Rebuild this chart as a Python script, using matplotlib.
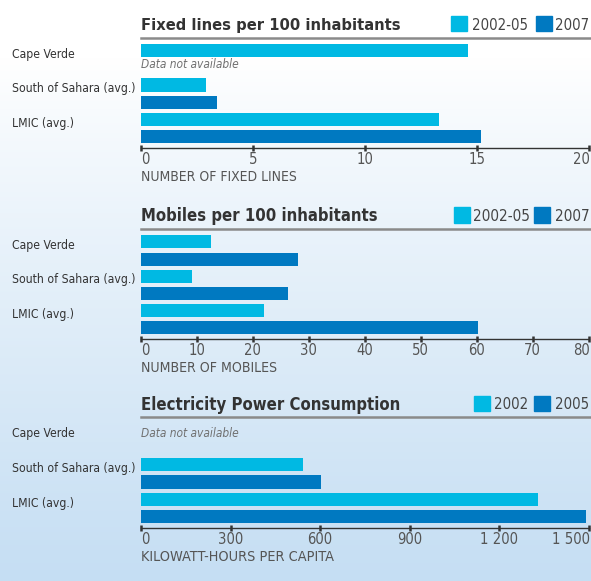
import matplotlib
matplotlib.use("Agg")
import matplotlib.pyplot as plt
import numpy as np
from matplotlib.patches import Rectangle
from matplotlib import font_manager as fm
from matplotlib.font_manager import FontProperties

# ---------------- data ----------------
categories = ["Cape Verde", "South of Sahara (avg.)", "LMIC (avg.)"]

fixed_title = "Fixed lines per 100 inhabitants"
fixed_labels = ["2002-05", "2007"]
fixed_early = [14.6, 2.9, 13.3]
fixed_late = [None, 3.4, 15.2]
fixed_ticks = [0, 5, 10, 15, 20]
fixed_ticklabels = ["0", "5", "10", "15", "20"]
fixed_xlabel = "NUMBER OF FIXED LINES"

mob_title = "Mobiles per 100 inhabitants"
mob_labels = ["2002-05", "2007"]
mob_early = [12.5, 9.1, 22.0]
mob_late = [28.1, 26.3, 60.3]
mob_ticks = [0, 10, 20, 30, 40, 50, 60, 70, 80]
mob_ticklabels = ["0", "10", "20", "30", "40", "50", "60", "70", "80"]
mob_xlabel = "NUMBER OF MOBILES"

elec_title = "Electricity Power Consumption"
elec_labels = ["2002", "2005"]
elec_early = [None, 543, 1330]
elec_late = [None, 604, 1492]
elec_ticks = [0, 300, 600, 900, 1200, 1500]
elec_ticklabels = ["0", "300", "600", "900", "1 200", "1 500"]
elec_xlabel = "KILOWATT-HOURS PER CAPITA"

na_text = "Data not available"

# ---------------- fonts ----------------
files = [f.fname for f in fm.fontManager.ttflist]


def find_font(want_bold, want_italic, condensed):
    prefs = ["liberationsansnarrow", "dejavusanscondensed", "opensanscondensed",
             "robotocondensed", "condensed", "narrow"] if condensed else \
            ["liberationsans-", "dejavusans", "opensans", "roboto"]
    for p in prefs:
        for fn in files:
            low = fn.lower().replace(" ", "").replace("_", "")
            base = low.split("/")[-1]
            if p not in base:
                continue
            if "mono" in base or "serif" in base:
                continue
            b = "bold" in base
            it = ("italic" in base) or ("oblique" in base)
            if condensed is False and ("condensed" in base or "narrow" in base):
                continue
            if b == want_bold and it == want_italic:
                return fn
    return None


def fprop(bold=False, italic=False):
    fn = find_font(bold, italic, True) or find_font(bold, italic, False)
    if fn:
        return FontProperties(fname=fn)
    return FontProperties(family="DejaVu Sans",
                          weight="bold" if bold else "normal",
                          style="italic" if italic else "normal")


F_REG = fprop()
F_BOLD = fprop(bold=True)
F_IT = fprop(italic=True)

# ---------------- style ----------------
LIGHT = "#00B9E3"
DARK = "#0079C1"
W, H = 591, 581

fig = plt.figure(figsize=(W / 100, H / 100), dpi=100)
renderer = fig.canvas.get_renderer()

# background gradient
bg = fig.add_axes([0, 0, 1, 1], zorder=-10)
n = 256
t = np.linspace(0, 1, n)
t = np.clip((t - 0.10) / 0.90, 0, 1) ** 0.9
top = np.array([1.0, 1.0, 1.0])
bot = np.array([0xC5, 0xDE, 0xF3]) / 255
grad = top[None, :] * (1 - t[:, None]) + bot[None, :] * t[:, None]
bg.imshow(grad[:, None, :], aspect="auto", extent=[0, 1, 0, 1], origin="upper")
bg.axis("off")


def fx(x):
    return x / W


def fy(y):
    return 1 - y / H


def text_w(s, fp, size):
    tt = fig.text(0, 0, s, fontproperties=fp, fontsize=size)
    w = tt.get_window_extent(renderer).width
    tt.remove()
    return w


def fit_size(s, fp, width, max_size, allow=1.0):
    return min(10 * width * allow / text_w(s, fp, 10), max_size)


def ptext(xpx, ypx, s, fp, size, color, ha="left", va="baseline"):
    return fig.text(fx(xpx), fy(ypx), s, fontproperties=fp, fontsize=size,
                    color=color, ha=ha, va=va)


X0, X1 = 141, 588.5


def panel(top_px, bot_px, title, title_w, labels, leg, early, late, ticks,
          ticklabels, xlabel, xlabel_w, na_rows):
    ax = fig.add_axes([fx(X0), fy(bot_px), fx(X1) - fx(X0), fy(top_px) - fy(bot_px)])
    ax.set_facecolor("none")
    xmax = ticks[-1]
    ax.set_xlim(0, xmax)
    ax.set_ylim(5.65, -0.75)
    for g in range(len(categories)):
        if early[g] is not None:
            ax.barh(2 * g, early[g], height=0.76, left=0, color=LIGHT, align="center")
        if late[g] is not None:
            ax.barh(2 * g + 1, late[g], height=0.76, left=0, color=DARK, align="center")
    for s in ["left", "right", "top"]:
        ax.spines[s].set_visible(False)
    ax.spines["bottom"].set_color("#333333")
    ax.spines["bottom"].set_linewidth(1.0)
    ax.set_yticks([])
    ax.set_xticks(ticks)
    ax.set_xticklabels([])
    ax.tick_params(axis="x", direction="inout", length=4, width=1.8, color="#333333")

    def ypx(slot):
        y0 = top_px + 0.75 * (bot_px - top_px) / 6.4
        return y0 + slot * (bot_px - top_px) / 6.4

    def xpx(v):
        return X0 + (X1 - X0) * v / xmax

    # separator line
    fig.add_artist(plt.Line2D([fx(X0), 1], [fy(top_px), fy(top_px)], color="#8a8a8a",
                              lw=1.8, transform=fig.transFigure))
    # title
    ts = fit_size(title, F_BOLD, title_w, 12.0, 1.3)
    ptext(X0, top_px - 7.5, title, F_BOLD, ts, "#333333")
    # legend
    lsz = fit_size(labels[0], F_REG, leg[0][2], 12.5, 1.1)
    cy = top_px - 14
    sx, tx, tw = leg[0]
    fig.add_artist(Rectangle((fx(sx), fy(cy + 7.5)), fx(16), 15 / H, color=LIGHT,
                             transform=fig.transFigure))
    ptext(tx, cy + 6, labels[0], F_REG, lsz, "#444444")
    w2 = text_w(labels[1], F_REG, lsz)
    tx2 = min(leg[1][1], W - 1.5 - w2)
    sx2 = tx2 - (leg[1][1] - leg[1][0])
    fig.add_artist(Rectangle((fx(sx2), fy(cy + 7.5)), fx(16), 15 / H, color=DARK,
                             transform=fig.transFigure))
    ptext(tx2, cy + 6, labels[1], F_REG, lsz, "#444444")
    # category labels
    csz = fit_size(categories[1], F_REG, 116, 11, 1.06)
    for g, c in enumerate(categories):
        ptext(12, ypx(2 * g + 0.42), c, F_REG, csz, "#333333")
    # not available notes
    nsz = fit_size(na_text, F_IT, 93, 9, 1.05)
    for g, sl in na_rows:
        ptext(X0, ypx(sl), na_text, F_IT, nsz, "#707070")
    # tick labels
    tsz = fit_size("10", F_REG, 13, 11, 1.3)
    for i, (v, lab) in enumerate(zip(ticks, ticklabels)):
        if i == 0:
            ptext(xpx(v) + 0.5, bot_px + 16, lab, F_REG, tsz, "#555555", ha="left")
        elif i == len(ticks) - 1:
            ptext(W - 1, bot_px + 16, lab, F_REG, tsz, "#555555", ha="right")
        else:
            ptext(xpx(v), bot_px + 16, lab, F_REG, tsz, "#555555", ha="center")
    # axis label
    xsz = fit_size(xlabel, F_REG, xlabel_w, 10.5, 1.0)
    ptext(X0, bot_px + 33, xlabel, F_REG, xsz, "#555555")
    return ax


panel(37.5, 148, fixed_title, 198, fixed_labels, [(451, 472, 51), (538, 557, 30)],
      fixed_early, fixed_late, fixed_ticks, fixed_ticklabels, fixed_xlabel, 156,
      [(0, 1.0)])
panel(229, 339, mob_title, 182, mob_labels, [(454, 473, 52), (540, 561, 27)],
      mob_early, mob_late, mob_ticks, mob_ticklabels, mob_xlabel, 136, [])
panel(417, 528, elec_title, 198, elec_labels, [(474, 494, 31), (539, 560, 28)],
      elec_early, elec_late, elec_ticks, elec_ticklabels, elec_xlabel, 193,
      [(0, 0.42)])

fig.savefig("out.png", dpi=100)
